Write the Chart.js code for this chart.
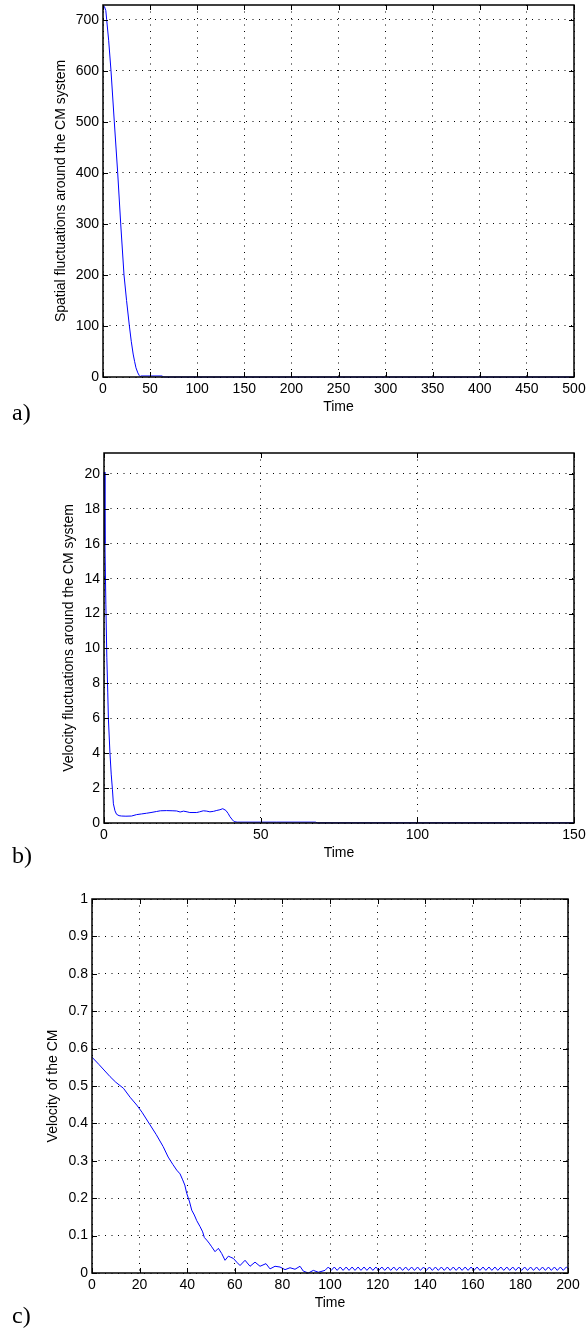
<!DOCTYPE html>
<html>
<head>
<meta charset="utf-8">
<script src="https://cdn.jsdelivr.net/npm/chart.js@4.4.1/dist/chart.umd.min.js"></script>
<style>
  body { margin: 0; background: #fff; }
  #page { position: relative; width: 588px; height: 1330px; background: #fff; }
  canvas { position: absolute; left: 0; }
  .tag { position: absolute; left: 12px; font-family: 'Liberation Serif', 'DejaVu Serif', serif; font-size: 24px; line-height: 24px; color: #000; }
</style>
</head>
<body>
<div id="page">
  <canvas id="chartA" width="588" height="425" style="top:0px"></canvas>
  <div class="tag" style="top:400px">a)</div>
  <canvas id="chartB" width="588" height="430" style="top:440px"></canvas>
  <div class="tag" style="top:843px">b)</div>
  <canvas id="chartC" width="588" height="445" style="top:880px"></canvas>
  <div class="tag" style="top:1303px">c)</div>
</div>
<script>
// a) spatial fluctuations
const timeA = [0, 1.5, 3, 3.9, 6, 8.5, 12, 15.6, 18.8, 22.3, 25, 28, 30, 32, 33.6, 35, 37, 38.5, 39.3, 40, 50, 63, 64, 100, 200, 300, 400, 500];
const valsA = [729, 726, 718, 700, 660, 600, 500, 400, 300, 200, 150, 100, 70, 45, 30, 18, 8, 3, 1, 2, 2, 2, 0, 0, 0, 0, 0, 0];
const ticksA = [0, 50, 100, 150, 200, 250, 300, 350, 400, 450, 500];

// b) velocity fluctuations
const timeB = [0, 0.3, 0.6, 0.9, 1.2, 1.4, 1.9, 2.3, 2.7, 3.0, 3.5, 4.0, 4.8, 5.6, 7, 8.8, 10.4, 12, 13.6, 15, 16.8, 18, 20, 22, 23.2, 24.3, 25.4, 26.5, 27.4, 29.6, 30.5, 31.7, 32.8, 33.8, 35, 36, 37, 37.9, 38.9, 39.6, 40.2, 41, 41.5, 42.5, 55, 67.5, 68, 100, 150];
const valsB = [20.1, 16, 12.5, 9.5, 7.5, 6, 4, 2.8, 1.9, 1.1, 0.7, 0.5, 0.42, 0.4, 0.39, 0.4, 0.48, 0.52, 0.56, 0.6, 0.66, 0.7, 0.71, 0.7, 0.69, 0.63, 0.68, 0.64, 0.6, 0.6, 0.64, 0.7, 0.68, 0.64, 0.67, 0.72, 0.76, 0.82, 0.72, 0.55, 0.36, 0.18, 0.08, 0.05, 0.05, 0.05, 0.01, 0.01, 0.01];

// c) velocity of the CM
const timeC = [0, 3, 7.6, 10, 13.2, 16, 18.8, 21, 24.4, 27, 29.9, 32, 34, 35.6, 37, 38.1, 39, 39.8, 41, 41.9, 43, 44, 45.4, 46.5, 47.2, 48.2, 49.2, 50.3, 51.7, 53.1, 54.5, 55.9, 57.3, 58.3, 59.4, 60.8, 62.2, 64.3, 66.4, 68.5, 70.6, 73.1, 74.8, 76.9, 79, 81.1, 83.2, 85.3, 87.4, 88.8, 90.9, 93, 95.1, 97.9, 99.3,
  100.5, 101.8, 103, 104.3, 105.5, 106.8, 108, 109.3, 110.5, 111.8, 113, 114.3, 115.5, 116.8, 118, 119.3, 120.5, 121.8, 123, 124.3,
  125.5, 126.8, 128, 129.3, 130.5, 131.8, 133, 134.3, 135.5, 136.8, 138, 139.3, 140.5, 141.8, 143, 144.3, 145.5, 146.8, 148, 149.3,
  150.5, 151.8, 153, 154.3, 155.5, 156.8, 158, 159.3, 160.5, 161.8, 163, 164.3, 165.5, 166.8, 168, 169.3, 170.5, 171.8, 173, 174.3,
  175.5, 176.8, 178, 179.3, 180.5, 181.8, 183, 184.3, 185.5, 186.8, 188, 189.3, 190.5, 191.8, 193, 194.3, 195.5, 196.8, 198, 199.3, 200];
const valsC = [0.577, 0.557, 0.525, 0.51, 0.494, 0.47, 0.449, 0.43, 0.396, 0.37, 0.338, 0.31, 0.29, 0.275, 0.265, 0.249, 0.235, 0.213, 0.19, 0.168, 0.155, 0.14, 0.124, 0.11, 0.095, 0.088, 0.08, 0.07, 0.057, 0.066, 0.052, 0.034, 0.045, 0.042, 0.039, 0.029, 0.02, 0.034, 0.018, 0.029, 0.018, 0.025, 0.011, 0.018, 0.016, 0.009, 0.014, 0.01, 0.018, 0.005, 0, 0.007, 0.002, 0.007, 0.016,
  0.007, 0.016, 0.007, 0.016, 0.007, 0.016, 0.007, 0.016, 0.007, 0.016, 0.007, 0.016, 0.007, 0.016, 0.007, 0.016, 0.007, 0.016, 0.007, 0.016,
  0.007, 0.016, 0.007, 0.016, 0.007, 0.016, 0.007, 0.016, 0.007, 0.016, 0.007, 0.016, 0.007, 0.016, 0.007, 0.016, 0.007, 0.016, 0.007, 0.016,
  0.007, 0.016, 0.007, 0.016, 0.007, 0.016, 0.007, 0.016, 0.007, 0.016, 0.007, 0.016, 0.007, 0.016, 0.007, 0.016, 0.007, 0.016, 0.007, 0.016,
  0.007, 0.016, 0.007, 0.016, 0.007, 0.016, 0.007, 0.016, 0.007, 0.016, 0.007, 0.016, 0.007, 0.016, 0.007, 0.016, 0.007, 0.016, 0.007, 0.016, 0.012];

Chart.defaults.font.family = "'Liberation Sans', Arial, Helvetica, sans-serif";
Chart.defaults.font.size = 14;
Chart.defaults.color = '#000';

// matlab style box with inward ticks
const boxPlugin = {
  id: 'matlabBox',
  afterDatasetsDraw(chart) {
    const { ctx, chartArea: a, scales: { x, y } } = chart;
    ctx.save();
    ctx.strokeStyle = '#000';
    ctx.lineWidth = 1;
    ctx.beginPath();
    x.ticks.forEach(t => {
      const px = Math.round(x.getPixelForValue(t.value)) + 0.5;
      ctx.moveTo(px, a.bottom); ctx.lineTo(px, a.bottom - 5);
      ctx.moveTo(px, a.top); ctx.lineTo(px, a.top + 5);
    });
    y.ticks.forEach(t => {
      const py = Math.round(y.getPixelForValue(t.value)) + 0.5;
      ctx.moveTo(a.left, py); ctx.lineTo(a.left + 5, py);
      ctx.moveTo(a.right, py); ctx.lineTo(a.right - 5, py);
    });
    ctx.stroke();
    ctx.lineWidth = 1.5;
    ctx.strokeRect(a.left, a.top, a.right - a.left, a.bottom - a.top);
    ctx.restore();
  }
};

function makePanel(id, times, vals, p) {
  const ctx = document.getElementById(id).getContext('2d');
  return new Chart(ctx, {
    type: 'line',
    data: {
      datasets: [{
        data: times.map((t, i) => ({ x: t, y: vals[i] })),
        borderColor: '#0000ff',
        borderWidth: 1,
        pointRadius: 0,
        tension: 0,
        clip: false
      }]
    },
    options: {
      responsive: false,
      animation: false,
      layout: { padding: { top: p.padTop, right: p.padRight, left: 0, bottom: 0 } },
      plugins: { legend: { display: false }, tooltip: { enabled: false } },
      scales: {
        x: {
          type: 'linear',
          min: p.xMin, max: p.xMax,
          afterBuildTicks: axis => { axis.ticks = p.xTicks.map(v => ({ value: v })); },
          afterFit: axis => { axis.height = p.xHeight; axis.paddingLeft = 0; axis.paddingRight = 0; },
          ticks: { padding: 4, maxRotation: 0, autoSkip: false },
          grid: { color: '#000', drawTicks: false },
          border: { display: false, dash: [1, 5.5] },
          title: { display: true, text: 'Time', font: { size: 14 }, padding: { top: 0, bottom: p.timePad } }
        },
        y: {
          min: p.yMin, max: p.yMax,
          ticks: { stepSize: p.yStep, padding: 4, includeBounds: false, callback: v => String(+v.toFixed(2)) },
          afterFit: axis => { axis.width = p.yWidth; axis.paddingTop = 0; axis.paddingBottom = 0; },
          grid: { color: '#000', drawTicks: false },
          border: { display: false, dash: [1, 5.5] },
          title: { display: true, text: p.yTitle, font: { size: 14 }, padding: { top: p.yTitlePad, bottom: 0 } }
        }
      }
    },
    plugins: [boxPlugin]
  });
}

makePanel('chartA', timeA, valsA, {
  padTop: 5, padRight: 14, yWidth: 103, xHeight: 48,
  xMin: 0, xMax: 500, xTicks: ticksA,
  yMin: 0, yMax: 729, yStep: 100,
  yTitle: 'Spatial fluctuations around the CM system', yTitlePad: 53, timePad: 9.6
});

makePanel('chartB', timeB, valsB, {
  padTop: 13, padRight: 14, yWidth: 104, xHeight: 47,
  xMin: 0, xMax: 150, xTicks: [0, 50, 100, 150],
  yMin: 0, yMax: 21.2, yStep: 2,
  yTitle: 'Velocity fluctuations around the CM system', yTitlePad: 60.6, timePad: 8.6
});

makePanel('chartC', timeC, valsC, {
  padTop: 19, padRight: 20, yWidth: 92, xHeight: 52,
  xMin: 0, xMax: 200, xTicks: [0, 20, 40, 60, 80, 100, 120, 140, 160, 180, 200],
  yMin: 0, yMax: 1, yStep: 0.1,
  yTitle: 'Velocity of the CM', yTitlePad: 45, timePad: 13.6
});
</script>
</body>
</html>
